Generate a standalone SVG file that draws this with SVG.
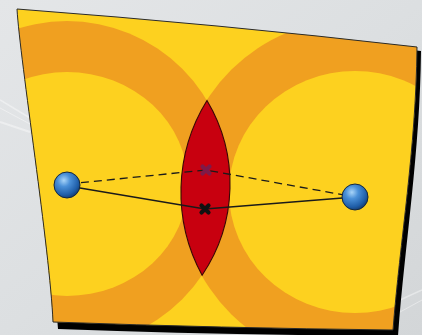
<svg xmlns="http://www.w3.org/2000/svg" width="422" height="335" viewBox="0 0 422 335">
<defs>
<linearGradient id="bg" x1="0" y1="0" x2="1" y2="1">
<stop offset="0" stop-color="#e4e6e8"/>
<stop offset="0.5" stop-color="#dcdfe1"/>
<stop offset="1" stop-color="#d3d6d8"/>
</linearGradient>
<radialGradient id="ball" cx="0.38" cy="0.32" r="0.7">
<stop offset="0" stop-color="#a8d4f8"/>
<stop offset="0.35" stop-color="#4a90d8"/>
<stop offset="0.8" stop-color="#1f5ea8"/>
<stop offset="1" stop-color="#163e74"/>
</radialGradient>
<clipPath id="sheetClip">
<path d="M17 9 Q217 24 417 47 C416 150 400 240 393 330 Q220 328 53 322 C50 250 20 60 17 9 Z"/>
</clipPath>
<style>
.ring{fill:#f0a020}
.inner{fill:#fdd11f}
.cx{fill:none;stroke-width:4.2;stroke-linecap:round}
.ln{fill:none;stroke:#1a1a1a;stroke-width:1.3}
.ball{fill:url(#ball);stroke:#14283f;stroke-width:1}
</style>
</defs>
<rect width="422" height="335" fill="url(#bg)"/>
<g opacity="0.4" stroke="#ffffff" fill="none">
<path d="M0 100 L30 118" stroke-width="1.5"/>
<path d="M0 108 L30 124" stroke-width="1"/>
<path d="M0 122 L30 132" stroke-width="2"/>
<path d="M400 300 L422 290" stroke-width="1.5"/>
<path d="M400 312 L422 300" stroke-width="1"/>
</g>
<g id="sheet">
<path d="M22 14 Q222 29 421 51 C420 153 405 243 398 336 Q224 335 58 329 C55 257 25 64 22 14 Z" fill="#000"/>
<g clip-path="url(#sheetClip)">
<rect x="0" y="0" width="422" height="335" fill="#fdd11f"/>
<circle class="ring" cx="67" cy="184" r="163"/>
<ellipse class="ring" cx="355" cy="192" rx="175" ry="173"/>
<ellipse class="inner" cx="67" cy="184" rx="121" ry="112"/>
<ellipse class="inner" cx="355" cy="192" rx="126" ry="121"/>
</g>
<path d="M17 9 Q217 24 417 47 C416 150 400 240 393 330 Q220 328 53 322 C50 250 20 60 17 9 Z" fill="none" stroke="#2a2a2a" stroke-width="1"/>
</g>
<g id="lens">
<path d="M206.98 100.45 A174 174 0 0 0 202.12 275.19 A163 163 0 0 0 206.98 100.45 Z" fill="#c8000f" stroke="#3a0505" stroke-width="1.1"/>
</g>
<g id="connectors">
<path class="ln" d="M68 184 L206 170 L355 197" stroke-dasharray="8 5"/>
<path class="ln" d="M68 186 L205 209 L355 197"/>
</g>
<g id="cross-upper">
<path class="cx" stroke="#7e1a48" d="M202.5 166.5 L209.5 173.5 M209.5 166.5 L202.5 173.5"/>
</g>
<g id="cross-lower">
<path class="cx" stroke="#111" d="M201.5 205.5 L208.5 212.5 M208.5 205.5 L201.5 212.5"/>
</g>
<g id="ball-left">
<circle class="ball" cx="67" cy="185" r="13"/>
</g>
<g id="ball-right">
<circle class="ball" cx="355" cy="197" r="13"/>
</g>
</svg>
